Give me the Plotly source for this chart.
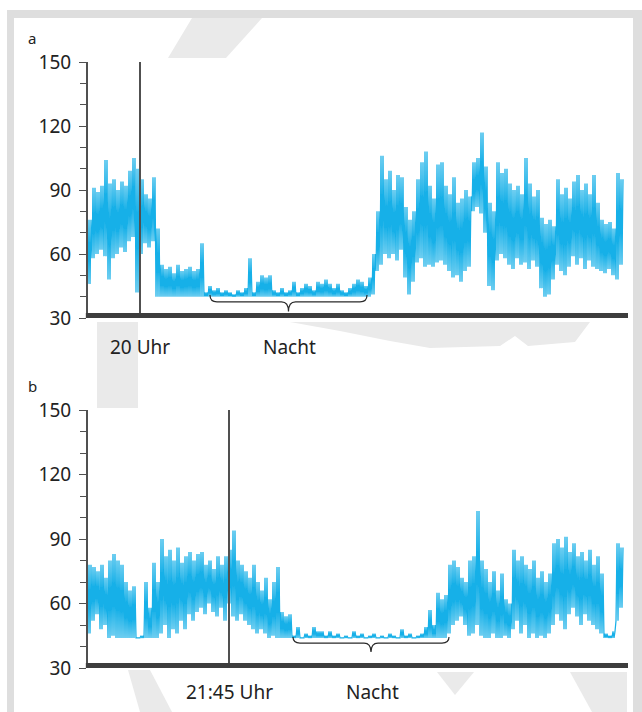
import plotly.graph_objects as go

# ---------------- data (heart rate, bpm; one bin = 4 time samples) ----------------
TICK_VALS = [30, 60, 90, 120, 150]

a_lo = [46, 58, 60, 62, 59, 48, 58, 60, 63, 61, 66, 68, 42, 60, 65, 63, 66, 40, 40,
        40, 40, 40, 40, 40, 40, 40, 40, 40, 40, 40, 40, 40, 40, 40, 40, 40, 40, 40, 40,
        40, 40, 40, 40, 40, 40, 40, 40, 40, 40, 40, 40, 40, 40, 40, 40, 40, 40, 40, 40,
        40, 40, 40, 40, 40, 40, 40, 40, 40, 40, 40, 40, 41, 52, 55, 60, 58, 60, 57, 62,
        49, 41, 47, 56, 58, 54, 55, 54, 56, 57, 55, 52, 49, 50, 47, 52, 54, 80, 82, 79,
        70, 45, 43, 57, 60, 58, 55, 53, 58, 55, 56, 53, 57, 54, 44, 40, 41, 48, 55, 52,
        50, 54, 59, 55, 58, 53, 57, 54, 53, 52, 51, 53, 50, 48, 55]
a_hi = [76, 91, 89, 92, 104, 93, 95, 90, 94, 92, 99, 105, 100, 95, 88, 86, 96, 72, 55,
        53, 54, 51, 55, 52, 53, 54, 52, 53, 65, 42, 45, 43, 44, 42, 43, 42, 41, 43, 42,
        44, 58, 42, 47, 50, 49, 50, 43, 42, 44, 42, 43, 47, 42, 44, 46, 45, 43, 47, 46,
        48, 46, 44, 46, 43, 42, 44, 46, 48, 47, 45, 49, 60, 80, 106, 95, 99, 90, 97, 96,
        82, 76, 80, 95, 103, 108, 92, 86, 102, 103, 92, 88, 96, 84, 86, 90, 87, 103, 105, 117,
        101, 84, 80, 103, 98, 100, 93, 90, 92, 88, 105, 93, 87, 90, 77, 74, 76, 73, 95, 88,
        91, 86, 94, 97, 90, 93, 88, 97, 84, 76, 74, 75, 72, 98, 95]

b_lo = [46, 52, 55, 48, 50, 44, 45, 44, 44, 44, 44, 44, 44, 44, 44, 44, 44, 44, 46,
        50, 44, 48, 46, 52, 48, 55, 52, 56, 58, 55, 60, 56, 54, 58, 52, 60, 54, 52, 55,
        52, 50, 48, 46, 48, 46, 44, 45, 44, 44, 44, 44, 44, 44, 44, 44, 44, 44, 44, 44,
        44, 44, 44, 44, 44, 44, 44, 44, 44, 44, 44, 44, 44, 44, 44, 44, 44, 44, 44, 44,
        44, 44, 44, 44, 44, 44, 44, 44, 44, 44, 44, 46, 50, 52, 54, 50, 45, 46, 50, 45,
        44, 44, 46, 44, 44, 45, 44, 48, 52, 46, 50, 44, 46, 44, 45, 44, 46, 50, 55, 52,
        48, 55, 58, 54, 50, 55, 52, 50, 48, 46, 44, 44, 44, 52, 58]
b_hi = [78, 77, 75, 78, 72, 80, 83, 80, 78, 70, 66, 68, 44, 45, 70, 58, 79, 70, 90,
        82, 85, 80, 86, 79, 82, 84, 80, 83, 84, 78, 80, 76, 82, 78, 82, 85, 94, 80, 78,
        75, 72, 78, 70, 66, 72, 62, 70, 77, 56, 54, 55, 45, 49, 44, 46, 45, 49, 47, 47,
        45, 47, 45, 46, 44, 45, 44, 47, 45, 46, 44, 45, 46, 44, 45, 44, 46, 45, 44, 48,
        45, 46, 44, 45, 46, 49, 57, 50, 65, 62, 64, 78, 80, 77, 72, 70, 80, 82, 103, 80,
        76, 70, 75, 66, 74, 62, 60, 85, 80, 82, 78, 76, 80, 72, 75, 70, 74, 88, 90, 86,
        91, 84, 88, 82, 84, 80, 85, 78, 82, 74, 46, 45, 47, 88, 86]

BIN = 4                     # samples per bin
X_MAX = 540                 # samples shown on the time axis
a_marker, a_marker_label = 52, "20 Uhr"
b_marker, b_marker_label = 141, "21:45 Uhr"
a_night = (122, 279)
b_night = (205, 361)
night_label = "Nacht"

# ---------------- helpers ----------------
W, H = 642, 712
def px(x, y):
    return x / W, 1 - y / H

def zigzag(lo, hi):
    # each bin: trace swings between its minimum and maximum (twice per bin)
    xs, ys = [], []
    for i, (l, h) in enumerate(zip(lo, hi)):
        x0 = i * BIN
        xs += [x0, x0 + 1, x0 + 2, x0 + 3]
        ys += [l, h, l, h]
    return xs, ys

CYAN = "#16b0e8"
DARK = "#505050"
FONT = "Noto Sans"

fig = go.Figure()

panels = [
    dict(lo=a_lo, hi=a_hi, marker=a_marker, mlab=a_marker_label, night=a_night,
         xa="x", ya="y", brace=(40.8, 37.6, 33.0)),
    dict(lo=b_lo, hi=b_hi, marker=b_marker, mlab=b_marker_label, night=b_night,
         xa="x2", ya="y2", brace=(44.4, 41.6, 37.4)),
]

shapes = []
annotations = []

# background frame & watermark
def poly(pts, color):
    d = "M " + " L ".join(f"{px(x, y)[0]:.5f},{px(x, y)[1]:.5f}" for x, y in pts) + " Z"
    return dict(type="path", xref="paper", yref="paper", path=d,
                fillcolor=color, line=dict(width=0), layer="below")

shapes.append(poly([(7, 10), (642, 10), (642, 712), (7, 712)], "#dedede"))
shapes.append(poly([(14, 18), (633, 18), (633, 712), (14, 712)], "#ffffff"))
WM = "#eaeaea"
shapes.append(poly([(192, 18), (262, 18), (226, 58), (168, 58)], WM))
shapes.append(poly([(97, 322), (138, 322), (138, 408), (97, 408)], WM))
shapes.append(poly([(290, 322), (340, 331), (390, 341), (430, 348), (500, 346),
                    (515, 336), (528, 346), (575, 342), (590, 322)], WM))
shapes.append(poly([(128, 670), (150, 670), (172, 712), (140, 712)], WM))
shapes.append(poly([(437, 672), (474, 672), (455, 695)], WM))
shapes.append(poly([(570, 672), (627, 672), (627, 712), (592, 712)], WM))

label_y = {"x": 347, "x2": 692}
for p in panels:
    xs, ys = zigzag(p["lo"], p["hi"])
    fig.add_trace(go.Scatter(x=xs, y=ys, mode="lines", xaxis=p["xa"], yaxis=p["ya"],
                             line=dict(color=CYAN, width=1.25), hoverinfo="skip",
                             showlegend=False))
    # marker line
    fig.add_trace(go.Scatter(x=[p["marker"], p["marker"]], y=[30, 150], mode="lines",
                             xaxis=p["xa"], yaxis=p["ya"], line=dict(color=DARK, width=2),
                             hoverinfo="skip", showlegend=False))
    fig.add_trace(go.Scatter(x=[p["marker"]], y=[27.6], mode="markers", cliponaxis=False,
                             xaxis=p["xa"], yaxis=p["ya"],
                             marker=dict(symbol="triangle-up", size=8, color="#9a9a9a"),
                             hoverinfo="skip", showlegend=False))
    # x axis bar
    shapes.append(dict(type="line", xref=f"{p['xa']} domain", yref=p["ya"],
                       x0=-0.004, x1=1.0, y0=31.2, y1=31.2,
                       line=dict(color="#3d3d3d", width=5), layer="above"))
    # brace
    x0, x1 = p["night"]
    xm = (x0 + x1) / 2
    ye, yh, yt = p["brace"]
    r = 7
    d = (f"M {x0},{ye} Q {x0},{yh} {x0 + r},{yh} L {xm - r},{yh} "
         f"Q {xm},{yh} {xm},{yt} Q {xm},{yh} {xm + r},{yh} L {x1 - r},{yh} "
         f"Q {x1},{yh} {x1},{ye}")
    shapes.append(dict(type="path", xref=p["xa"], yref=p["ya"], path=d,
                       line=dict(color="#2a2a2a", width=1.2), layer="above"))
    # labels
    annotations.append(dict(x=p["marker"], xref=p["xa"], y=px(0, label_y[p["xa"]])[1],
                            yref="paper", text=p["mlab"], showarrow=False,
                            font=dict(family=FONT, size=19, color="#222"),
                            xanchor="center", yanchor="middle"))
    annotations.append(dict(x=xm + 1, xref=p["xa"], y=px(0, label_y[p["xa"]])[1],
                            yref="paper", text=night_label, showarrow=False,
                            font=dict(family=FONT, size=19, color="#222"),
                            xanchor="center", yanchor="middle"))

annotations.append(dict(x=px(32, 0)[0], y=px(0, 38)[1], xref="paper", yref="paper",
                        text="a", showarrow=False, xanchor="center", yanchor="middle",
                        font=dict(family=FONT, size=15, color="#222")))
annotations.append(dict(x=px(32, 0)[0], y=px(0, 386)[1], xref="paper", yref="paper",
                        text="b", showarrow=False, xanchor="center", yanchor="middle",
                        font=dict(family=FONT, size=15, color="#222")))

xdom = [88 / W, 628 / W]
ydom_a = [1 - 318 / H, 1 - 62 / H]
ydom_b = [1 - 668 / H, 1 - 410 / H]

xcommon = dict(range=[0, X_MAX], showgrid=False, zeroline=False, showticklabels=False,
               ticks="", showline=False, domain=xdom, fixedrange=True, automargin=False)
ycommon = dict(range=[30, 150], tickvals=TICK_VALS, ticks="outside", ticklen=7,
               tickwidth=1.3, tickcolor=DARK, showline=True, linecolor=DARK, linewidth=2,
               showgrid=False, zeroline=False, ticklabelstandoff=4, automargin=False,
               tickfont=dict(family=FONT, size=19, color="#222"),
               minor=dict(dtick=10, tick0=30, ticks="outside", ticklen=6, tickwidth=1.3,
                          tickcolor=DARK, showgrid=False), fixedrange=True)

fig.update_layout(
    width=W, height=H, margin=dict(l=0, r=0, t=0, b=0, pad=0, autoexpand=False),
    paper_bgcolor="white", plot_bgcolor="rgba(0,0,0,0)",
    xaxis=dict(**xcommon, anchor="y"),
    yaxis=dict(**ycommon, domain=ydom_a, anchor="x"),
    xaxis2=dict(**xcommon, anchor="y2"),
    yaxis2=dict(**ycommon, domain=ydom_b, anchor="x2"),
    shapes=shapes, annotations=annotations, showlegend=False,
)

fig.write_html("out.html", config={"displayModeBar": False},
               post_script="document.body.style.margin='0px';"
                           "document.body.style.overflow='hidden';")
